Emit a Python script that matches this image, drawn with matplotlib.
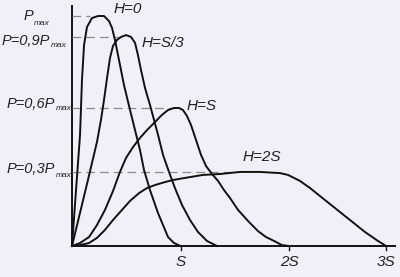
import matplotlib
matplotlib.use('Agg')
import matplotlib.pyplot as plt

# x in units of S, y in units of Pmax
h0_x = [0, 0.037, 0.074, 0.092, 0.111, 0.138, 0.184, 0.240, 0.295, 0.341, 0.369, 0.396,
        0.433, 0.479, 0.535, 0.581, 0.627, 0.664, 0.719, 0.793, 0.885, 0.940, 1.0]
h0_y = [0, 0.243, 0.483, 0.722, 0.874, 0.952, 0.991, 1.0, 1.0, 0.978, 0.948, 0.896,
        0.809, 0.700, 0.591, 0.504, 0.417, 0.330, 0.243, 0.143, 0.039, 0.013, 0]

h13_x = [0, 0.147, 0.230, 0.267, 0.295, 0.323, 0.350, 0.378, 0.415, 0.452, 0.498, 0.544,
         0.581, 0.608, 0.636, 0.673, 0.719, 0.756, 0.793, 0.839, 0.894, 0.949, 1.014,
         1.088, 1.161, 1.244, 1.336]
h13_y = [0, 0.287, 0.452, 0.548, 0.635, 0.730, 0.817, 0.870, 0.896, 0.909, 0.917, 0.909,
         0.883, 0.830, 0.765, 0.687, 0.613, 0.548, 0.483, 0.396, 0.322, 0.252, 0.178,
         0.113, 0.061, 0.022, 0]

hs_x = [0, 0.074, 0.157, 0.230, 0.304, 0.378, 0.442, 0.498, 0.562, 0.627, 0.691, 0.765,
        0.829, 0.885, 0.940, 0.986, 1.023, 1.060, 1.097, 1.143, 1.189, 1.235, 1.290,
        1.346, 1.401, 1.456, 1.530, 1.622, 1.714, 1.788, 1.862, 1.935, 2.0]
hs_y = [0, 0.013, 0.039, 0.091, 0.157, 0.239, 0.322, 0.383, 0.430, 0.470, 0.504, 0.539,
        0.570, 0.591, 0.600, 0.600, 0.591, 0.565, 0.526, 0.461, 0.396, 0.348, 0.313,
        0.283, 0.243, 0.209, 0.157, 0.109, 0.065, 0.039, 0.022, 0.004, 0]

h2s_x = [0, 0.074, 0.157, 0.230, 0.304, 0.378, 0.461, 0.535, 0.618, 0.691, 0.765, 0.857,
         0.931, 1.041, 1.207, 1.364, 1.548, 1.733, 1.917, 1.991, 2.046, 2.101, 2.194,
         2.286, 2.424, 2.562, 2.700, 2.820, 2.894]
h2s_y = [0, 0.004, 0.013, 0.035, 0.070, 0.113, 0.157, 0.196, 0.230, 0.252, 0.265, 0.278,
         0.287, 0.296, 0.309, 0.313, 0.322, 0.322, 0.317, 0.309, 0.296, 0.283, 0.252,
         0.217, 0.165, 0.113, 0.061, 0.022, 0]

curve_names = ['H=0', 'H=S/3', 'H=S', 'H=2S']
curve_label_pos = [(0.516, 1.030), (0.839, 0.883), (1.198, 0.609), (1.751, 0.387)]

levels = [1.0, 0.91, 0.6, 0.32]
level_ends = [0.166, 0.442, 0.92, 1.548]
level_texts = ['P', 'P=0,9P', 'P=0,6P', 'P=0,3P']
# label anchor: right edge of main text, main baseline, subscript baseline
lab_right = [-0.359, -0.203, -0.157, -0.157]
lab_base = [0.983, 0.874, 0.600, 0.317]
sub_base = [0.961, 0.865, 0.591, 0.300]

xticks = [1.0, 2.0, 2.89]
xtick_labels = ['S', '2S', '3S']

font = ['Liberation Sans', 'DejaVu Sans']
bg = '#f0f0f8'
ink = '#222222'

fig = plt.figure(figsize=(4, 2.77), dpi=100, facecolor=bg)
ax = fig.add_axes([0, 0, 1, 1], facecolor=bg)
ax.set_xlim(-72 / 108.5, 328 / 108.5)
ax.set_ylim(-31 / 230, 246 / 230)
ax.axis('off')

# axes
ax.plot([0, 0], [0, 1.048], color='#111111', lw=1.4, solid_capstyle='butt')
ax.plot([0, 2.986], [0, 0], color='#111111', lw=1.4, solid_capstyle='butt')
for xt, lab in zip(xticks, xtick_labels):
    ax.plot([xt, xt], [0, -0.018], color='#111111', lw=1.0)
    ax.text(xt, -0.068, lab, ha='center', va='center', fontsize=11,
            style='italic', family=font, color=ink)

# dashed levels
for lv, end in zip(levels, level_ends):
    ax.plot([0, end], [lv, lv], color='#8a8a8a', lw=0.9, dashes=(7, 4))

for xs, ys in [(h0_x, h0_y), (h13_x, h13_y), (hs_x, hs_y), (h2s_x, h2s_y)]:
    ax.plot(xs, ys, color='#111111', lw=1.4, solid_joinstyle='round')

for name, (x, y) in zip(curve_names, curve_label_pos):
    ax.text(x, y, name, ha='center', va='center', fontsize=11,
            style='italic', family=font, color=ink)

# level labels with 'max' subscript
for txt, xr, yb, ys in zip(level_texts, lab_right, lab_base, sub_base):
    ax.text(xr, yb, txt, ha='right', va='baseline', fontsize=10.5,
            style='italic', family=font, color=ink)
    ax.text(xr + 0.005, ys, 'max', ha='left', va='baseline', fontsize=6,
            style='italic', family=font, color=ink)

fig.savefig('out.png', dpi=100, facecolor=bg)
